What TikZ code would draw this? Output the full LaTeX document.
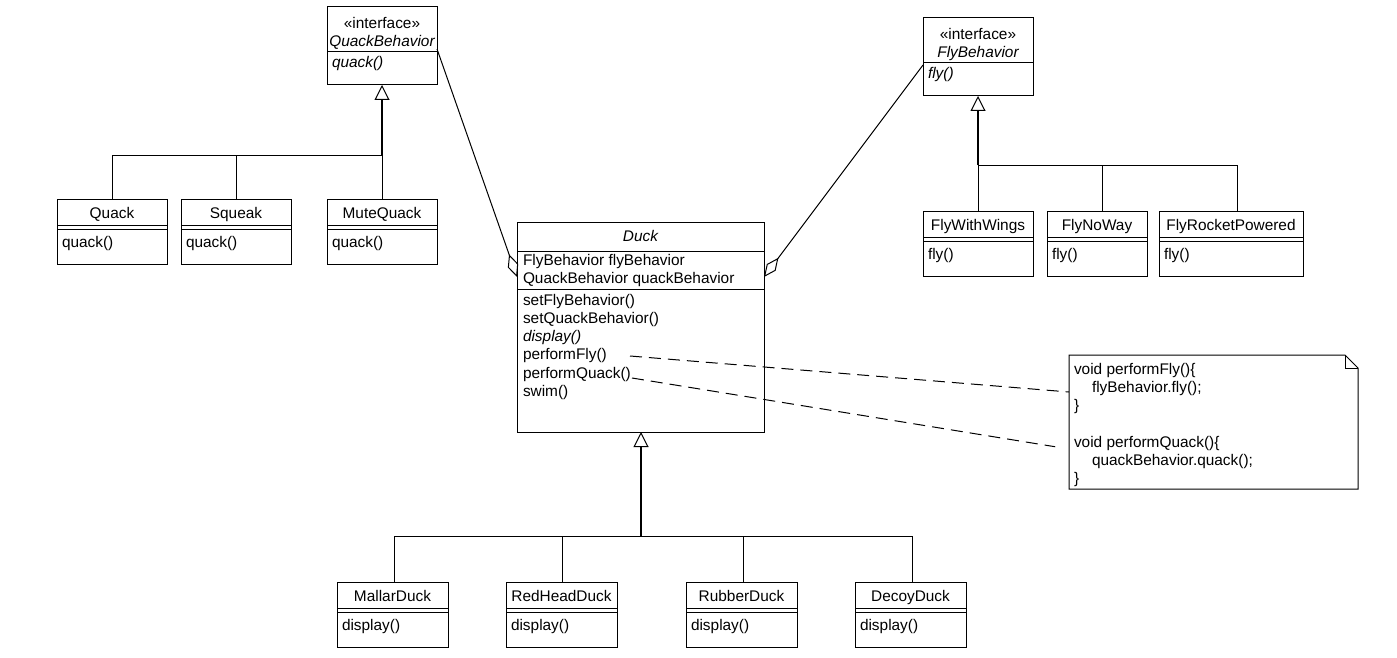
\documentclass[tikz,border=0pt]{standalone}
\usepackage{fontspec}
\setmainfont{Liberation Sans}
\usetikzlibrary{arrows.meta}
\newcommand{\umlfont}{\fontsize{15.4}{18.3}\selectfont}

\tikzset{
  classbox/.style={draw, line width=1pt, inner sep=0pt, outer sep=0pt, anchor=north west},
  lbl/.style={inner sep=0pt, outer sep=0pt, font=\umlfont},
  rule/.style={line width=1pt},
  link/.style={line width=1pt},
  gen/.style={line width=1.8pt, -{Triangle[open, length=15pt, width=15pt, line width=1pt]}},
  agg/.style={line width=1pt, -{Diamond[open, length=24pt, width=11pt]}},
  notelink/.style={line width=1pt, dash pattern=on 12pt off 7pt},
}

% concrete class: name, x, y, width, title, operation
\newcommand{\umlconcrete}[6]{%
  \node[classbox, minimum width=#4pt, minimum height=65pt] (#1) at (#2,#3) {};
  \draw[rule] ([yshift=-26pt]#1.north west) -- ([yshift=-26pt]#1.north east);
  \draw[rule] ([yshift=-30pt]#1.north west) -- ([yshift=-30pt]#1.north east);
  \node[lbl, anchor=base] (#1-name) at ([yshift=-19.5pt]#1.north) {#5};
  \node[lbl, anchor=base west] (#1-op) at ([xshift=5pt,yshift=-48.5pt]#1.north west) {#6};
}
% interface: name, x, y, width, title, operation
\newcommand{\umlinterface}[6]{%
  \node[classbox, minimum width=#4pt, minimum height=78pt] (#1) at (#2,#3) {};
  \draw[rule] ([yshift=-45pt]#1.north west) -- ([yshift=-45pt]#1.north east);
  \node[lbl, anchor=base] (#1-st) at ([yshift=-21.5pt]#1.north) {«interface»};
  \node[lbl, anchor=base] (#1-name) at ([yshift=-39.5pt]#1.north) {\itshape #5};
  \node[lbl, anchor=base west] (#1-op) at ([xshift=5pt,yshift=-61pt]#1.north west) {\itshape #6};
}

\begin{document}
\begin{tikzpicture}[x=1pt, y=-1pt]
\fill[white] (0,0) rectangle (1397,658);
\useasboundingbox (0,0) rectangle (1397,658);

% interfaces
\umlinterface{qb}{327}{7}{110}{QuackBehavior}{quack()}
\umlinterface{fb}{923}{18}{110}{FlyBehavior}{fly()}

% quack behaviours
\umlconcrete{quack}{57}{199}{110}{Quack}{quack()}
\umlconcrete{squeak}{181}{199}{110}{Squeak}{quack()}
\umlconcrete{mute}{327}{199}{110}{MuteQuack}{quack()}

% fly behaviours
\umlconcrete{wings}{923}{211}{110}{FlyWithWings}{fly()}
\umlconcrete{noway}{1047}{211}{100}{FlyNoWay}{fly()}
\umlconcrete{rocket}{1159}{211}{144}{FlyRocketPowered}{fly()}

% ducks
\umlconcrete{mallard}{337}{582}{111}{MallarDuck}{display()}
\umlconcrete{redhead}{506}{582}{111}{RedHeadDuck}{display()}
\umlconcrete{rubber}{686}{582}{111}{RubberDuck}{display()}
\umlconcrete{decoy}{855}{582}{111}{DecoyDuck}{display()}

% Duck class
\node[classbox, minimum width=247pt, minimum height=210pt] (duck) at (517,222) {};
\draw[rule] ([yshift=-29pt]duck.north west) -- ([yshift=-29pt]duck.north east);
\draw[rule] ([yshift=-67pt]duck.north west) -- ([yshift=-67pt]duck.north east);
\node[lbl, anchor=base] (duck-name) at ([yshift=-19pt]duck.north) {\itshape Duck};
\node[lbl, anchor=base west] (duck-a1) at (523,265) {FlyBehavior flyBehavior};
\node[lbl, anchor=base west] (duck-a2) at (523,283) {QuackBehavior quackBehavior};
\node[lbl, anchor=base west] (duck-m1) at (523,305) {setFlyBehavior()};
\node[lbl, anchor=base west] (duck-m2) at (523,323.3) {setQuackBehavior()};
\node[lbl, anchor=base west] (duck-m3) at (523,341.6) {\itshape display()};
\node[lbl, anchor=base west] (duck-m4) at (523,359.9) {performFly()};
\node[lbl, anchor=base west] (duck-m5) at (523,378.2) {performQuack()};
\node[lbl, anchor=base west] (duck-m6) at (523,396.5) {swim()};

% note
\node[inner sep=0pt, outer sep=0pt, minimum width=289pt, minimum height=134pt, anchor=north west] (note) at (1069,355) {};
\draw[rule] (note.north west) -- ([xshift=-13pt]note.north east) -- ([yshift=-13pt]note.north east)
  -- (note.south east) -- (note.south west) -- cycle;
\draw[rule] ([xshift=-13pt]note.north east) |- ([yshift=-13pt]note.north east);
\node[lbl, anchor=base west] (n1) at (1074,374) {void performFly()\{};
\node[lbl, anchor=base west] (n2) at (1092,392.3) {flyBehavior.fly();};
\node[lbl, anchor=base west] (n3) at (1074,410.6) {\}};
\node[lbl, anchor=base west] (n4) at (1074,447.2) {void performQuack()\{};
\node[lbl, anchor=base west] (n5) at (1092,465.5) {quackBehavior.quack();};
\node[lbl, anchor=base west] (n6) at (1074,483.8) {\}};

% generalisations: QuackBehavior
\coordinate (qj) at (382,155);
\draw[link] (quack.north) |- (qj);
\draw[link] (squeak.north) |- (qj);
\draw[link] (mute.north) -- (qj);
\draw[gen] (qj) -- (qb.south);

% generalisations: FlyBehavior
\coordinate (fj) at (978,165);
\draw[link] (wings.north) -- (fj);
\draw[link] ([xshift=5pt]noway.north) |- (fj);
\draw[link] ([xshift=6pt]rocket.north) |- (fj);
\draw[gen] (fj) -- (fb.south);

% generalisations: Duck
\coordinate (dj) at (641,536);
\draw[link] ([xshift=1.5pt]mallard.north) |- (dj);
\draw[link] ([xshift=1pt]redhead.north) |- (dj);
\draw[link] ([xshift=1.5pt]rubber.north) |- (dj);
\draw[link] ([xshift=1.5pt]decoy.north) |- (dj);
\draw[gen] (dj) -- (dj |- duck.south);

% aggregations
\draw[agg] ([yshift=-42pt]qb.north east) -- ([yshift=-55pt]duck.north west);
\draw[agg] ([yshift=-47pt]fb.north west) -- ([yshift=-55pt]duck.north east);

% note links
\coordinate (pfly) at (630,356);
\coordinate (pquack) at (632,378);
\draw[notelink] (pfly) -- ([yshift=-37pt]note.north west);
\draw[notelink, shorten >=14pt] (pquack) -- ([yshift=-94pt]note.north west);
\end{tikzpicture}
\end{document}
